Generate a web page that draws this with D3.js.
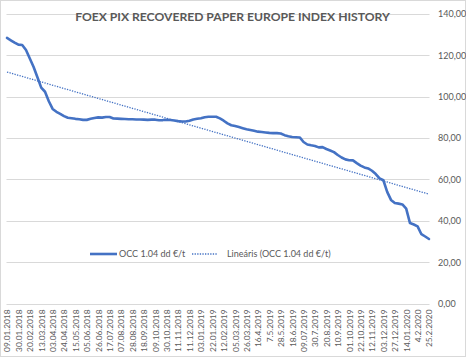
<!DOCTYPE html>
<html><head><meta charset="utf-8">
<script src="https://cdn.jsdelivr.net/npm/d3@7"></script>
<style>
body{margin:0;background:#fff}
svg{display:block}
text{font-family:Lato,"Open Sans",sans-serif;fill:#595959}
</style>
</head><body>
<svg id="c" width="466" height="357"></svg>
<script>
const title = "FOEX PIX RECOVERED PAPER EUROPE INDEX HISTORY";
const seriesName = "OCC 1.04 dd €/t";
const trendName = "Lineáris (OCC 1.04 dd €/t)";
const tickLabels = ["09.01.2018","30.01.2018","20.02.2018","13.03.2018","03.04.2018","24.04.2018","15.05.2018","05.06.2018","26.06.2018","17.07.2018","07.08.2018","28.08.2018","18.09.2018","09.10.2018","30.10.2018","11.11.2018","11.12.2018","03.01.2019","22.01.2019","12.02.2019","05.03.2019","26.03.2019","16.4.2019","7.5.2019","28.5.2019","18.6.2019","09.07.2019","30.7.2019","20.8.2019","10.9.2019","01.10.2019","22.10.2019","12.11.2019","03.12.2019","27.12.2019","14.01.2020","4.2.2020","25.2.2020"];
const occValues = [128.4,127.3,126.2,125.2,125.0,122.6,118.5,114.4,109.4,104.4,102.4,97.8,94.1,92.7,91.7,90.6,89.8,89.6,89.3,89.1,88.8,88.8,89.3,89.7,90.0,89.9,90.2,90.2,89.5,89.4,89.3,89.2,89.1,89.1,89.0,89.0,88.9,88.8,88.9,88.9,88.6,88.7,88.9,88.7,88.5,88.2,88.0,88.0,88.4,89.0,89.3,89.6,90.1,90.3,90.3,90.3,89.5,88.4,87.1,86.2,85.8,85.3,84.8,84.3,83.9,83.5,83.1,82.9,82.7,82.5,82.4,82.4,82.2,81.4,80.9,80.5,80.4,80.3,78.1,76.9,76.5,76.2,75.5,75.6,74.7,74.0,73.2,71.8,70.6,69.7,69.3,69.2,67.9,66.7,65.8,65.3,64.2,62.6,60.5,59.6,54.0,50.1,48.6,48.3,47.9,45.9,38.9,38.2,37.3,33.5,32.4,31.2];
const yTicks = [0,20,40,60,80,100,120,140];
const labelEvery = 3;

const blue = "#4472C4", grid = "#d9d9d9";
const svg = d3.select("#c");
const W = 466, H = 357;
const pLeft = 6.5, pRight = 429.5, pTop = 14, pBottom = 303.5;

svg.append("rect").attr("x",0.5).attr("y",0.5).attr("width",W-1).attr("height",H-1)
  .attr("fill","#fff").attr("stroke",grid);

const idx = d3.range(occValues.length);
const x = d3.scalePoint().domain(idx).range([pLeft+0.5, pRight-0.5]);
const y = d3.scaleLinear().domain([0,140]).range([pBottom, pTop]);

const loc = d3.formatLocale({decimal:",",thousands:" ",grouping:[3],currency:["","€"]});
const fmt = loc.format(".2f");

// gridlines
const gg = svg.append("g").attr("transform",`translate(${pLeft},0)`)
  .call(d3.axisRight(y).tickValues(yTicks).tickSize(pRight-pLeft).tickFormat(""));
gg.select(".domain").remove();
gg.selectAll("line").attr("stroke",grid).attr("stroke-width",1);
gg.selectAll(".tick").attr("transform",d=>`translate(0,${Math.round(y(d))+0.5})`);

// y labels right
const ya = svg.append("g").attr("transform",`translate(${pRight},0)`)
  .call(d3.axisRight(y).tickValues(yTicks).tickSize(0).tickPadding(8.5).tickFormat(fmt));
ya.select(".domain").remove();
ya.selectAll("text").attr("font-size","9px").attr("fill","#595959").attr("font-family","Lato");

// x axis
const xa = svg.append("g").attr("transform",`translate(0,${pBottom})`)
  .call(d3.axisBottom(x).tickValues(idx.filter(i=>i%labelEvery===0)).tickSize(0)
    .tickFormat(i=>tickLabels[i/labelEvery]));
xa.select(".domain").remove();
xa.selectAll("text").attr("transform","rotate(-90)").attr("text-anchor","end")
  .attr("x",-6).attr("y",0).attr("dy","0.35em")
  .attr("font-size","8.3px").attr("fill","#595959").attr("font-family","Lato");

// trend line (least squares)
const n = occValues.length;
const mx = d3.mean(idx), my = d3.mean(occValues);
const slope = d3.sum(idx,i=>(i-mx)*(occValues[i]-my))/d3.sum(idx,i=>(i-mx)*(i-mx));
const icpt = my - slope*mx;
const trend = [0,n-1].map(i=>({i, v:icpt+slope*i}));

svg.append("path").datum(occValues)
  .attr("fill","none").attr("stroke",blue).attr("stroke-width",2.6)
  .attr("stroke-linejoin","round").attr("stroke-linecap","round")
  .attr("d",d3.line().x((d,i)=>x(i)).y(d=>y(d)));

svg.append("path").datum(trend)
  .attr("fill","none").attr("stroke",blue).attr("stroke-width",1.3)
  .attr("stroke-dasharray","1.3,1.3")
  .attr("d",d3.line().x(d=>x(d.i)).y(d=>y(d.v)));

// title
const t = svg.append("text").attr("x",232.5).attr("y",21).attr("text-anchor","middle")
  .attr("font-weight","bold").attr("font-size","12px").text(title);
const tw = t.node().getComputedTextLength();
t.attr("font-size",(12*315/tw).toFixed(2)+"px");

// legend
const lg = svg.append("g").attr("transform","translate(0,254)");
lg.append("line").attr("x1",90).attr("x2",117).attr("stroke",blue).attr("stroke-width",2.6);
lg.append("text").attr("x",119).attr("y",0).attr("dy","0.35em").attr("font-size","9px").text(seriesName);
lg.append("line").attr("x1",192).attr("x2",217).attr("stroke",blue).attr("stroke-width",1.3).attr("stroke-dasharray","1.3,1.3");
lg.append("text").attr("x",227).attr("y",0).attr("dy","0.35em").attr("font-size","9px").text(trendName);
</script>
</body></html>
